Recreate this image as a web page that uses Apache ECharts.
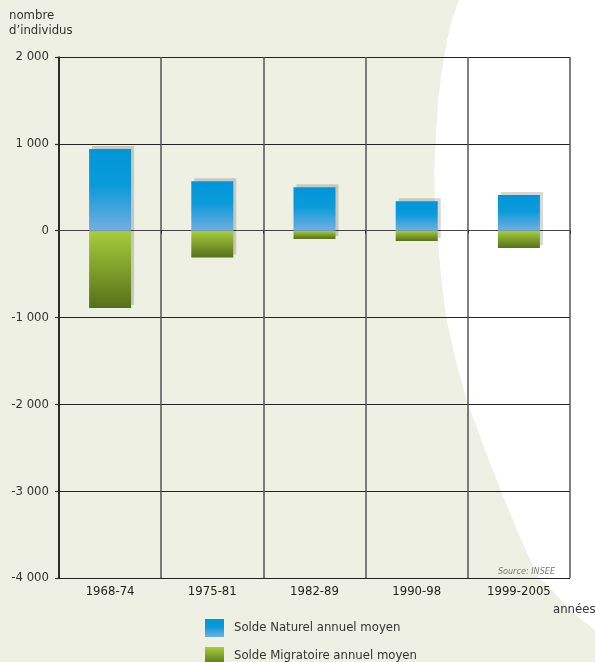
<!DOCTYPE html>
<html>
<head>
<meta charset="utf-8">
<script src="https://cdn.jsdelivr.net/npm/echarts@6/dist/echarts.min.js"></script>
<style>
html, body { margin: 0; padding: 0; background: #edf0e2; }
#chart { width: 595px; height: 662px; }
</style>
</head>
<body>
<div id="chart"></div>
<script>
// données (INSEE)
var periodes = ['1968-74', '1975-81', '1982-89', '1990-98', '1999-2005'];
var soldeNaturel = [940, 570, 500, 340, 410];
var soldeMigratoire = [-890, -310, -95, -120, -200];
var yMin = -4000, yMax = 2000, yStep = 1000;

var police = "'DejaVu Sans Condensed', 'Liberation Sans Narrow', 'DejaVu Sans', sans-serif";

// fond : croissant blanc à droite (décor)
var croissant = [
  [595, 0], [459, 0], [452, 20], [447, 40], [442, 70], [438, 100], [436, 135],
  [434, 170], [435, 200], [437, 230], [441, 275], [446, 317], [456, 362],
  [468, 404], [485, 450], [501, 491], [519, 535], [538, 577], [552, 590],
  [568, 608], [582, 620], [595, 630]
];

function fmt(v) {
  var s = String(Math.abs(v)).replace(/\B(?=(\d{3})+(?!\d))/g, ' ');
  return (v < 0 ? '-' : '') + s;
}

var chart = echarts.init(document.getElementById('chart'));
var option = {
  backgroundColor: '#edf0e2',
  animation: false,
  textStyle: { fontFamily: police },
  graphic: [
    { type: 'polygon', z: -100, silent: true, shape: { points: croissant }, style: { fill: '#ffffff' } }
  ],
  title: [
    { text: 'nombre\nd\u2019individus', left: 9, top: 8, padding: 0,
      textStyle: { fontSize: 13, fontWeight: 'normal', color: '#333', lineHeight: 15, fontFamily: police } },
    { text: 'années', left: 553, top: 603, padding: 0,
      textStyle: { fontSize: 13, fontWeight: 'normal', color: '#333', fontFamily: police } },
    { text: 'Source: INSEE', right: 40, top: 567, padding: 0,
      textStyle: { fontSize: 9, fontWeight: 'normal', fontStyle: 'italic', color: '#777', fontFamily: police } }
  ],
  legend: {
    orient: 'vertical',
    left: 205,
    top: 619,
    height: 100,
    padding: 0,
    icon: 'rect',
    itemWidth: 19,
    itemHeight: 18,
    itemGap: 10,
    data: ['Solde Naturel annuel moyen', 'Solde Migratoire annuel moyen'],
    textStyle: { fontSize: 13, color: '#333', fontFamily: police, padding: [0, 0, 0, 5] }
  },
  grid: { left: 59, right: 25, top: 57, bottom: 84, containLabel: false },
  xAxis: {
    type: 'category',
    data: periodes,
    axisLine: { lineStyle: { color: '#444', width: 1.2 } },
    axisTick: { show: true, length: 3, lineStyle: { color: '#333' } },
    axisLabel: { color: '#222', fontSize: 13, margin: 7, fontFamily: police },
    splitLine: { show: true, lineStyle: { color: '#555', width: 1.5 } }
  },
  yAxis: {
    type: 'value',
    min: yMin,
    max: yMax,
    interval: yStep,
    axisLine: { show: true, lineStyle: { color: '#111', width: 1.5 } },
    axisTick: { show: true, length: 4, lineStyle: { color: '#333', width: 1.2 } },
    axisLabel: { color: '#333', fontSize: 13, margin: 10, fontFamily: police, formatter: fmt },
    splitLine: { show: true, lineStyle: { color: '#222', width: 1.2 } }
  },
  series: [
    {
      name: 'Solde Naturel annuel moyen',
      type: 'bar',
      stack: 'solde',
      barWidth: 42,
      z: 3,
      data: soldeNaturel,
      itemStyle: {
        color: new echarts.graphic.LinearGradient(0, 0, 0, 1, [
          { offset: 0, color: '#0096da' },
          { offset: 0.45, color: '#0a9bd9' },
          { offset: 1, color: '#74aee1' }
        ]),
        shadowColor: 'rgba(0,0,0,0.16)',
        shadowBlur: 0,
        shadowOffsetX: 3,
        shadowOffsetY: -3
      }
    },
    {
      name: 'Solde Migratoire annuel moyen',
      type: 'bar',
      stack: 'solde',
      barWidth: 42,
      z: 2,
      data: soldeMigratoire,
      itemStyle: {
        color: new echarts.graphic.LinearGradient(0, 0, 0, 1, [
          { offset: 0, color: '#a8ce3b' },
          { offset: 1, color: '#56701a' }
        ]),
        shadowColor: 'rgba(0,0,0,0.16)',
        shadowBlur: 0,
        shadowOffsetX: 3,
        shadowOffsetY: -3
      }
    }
  ]
};
chart.setOption(option);
</script>
</body>
</html>
